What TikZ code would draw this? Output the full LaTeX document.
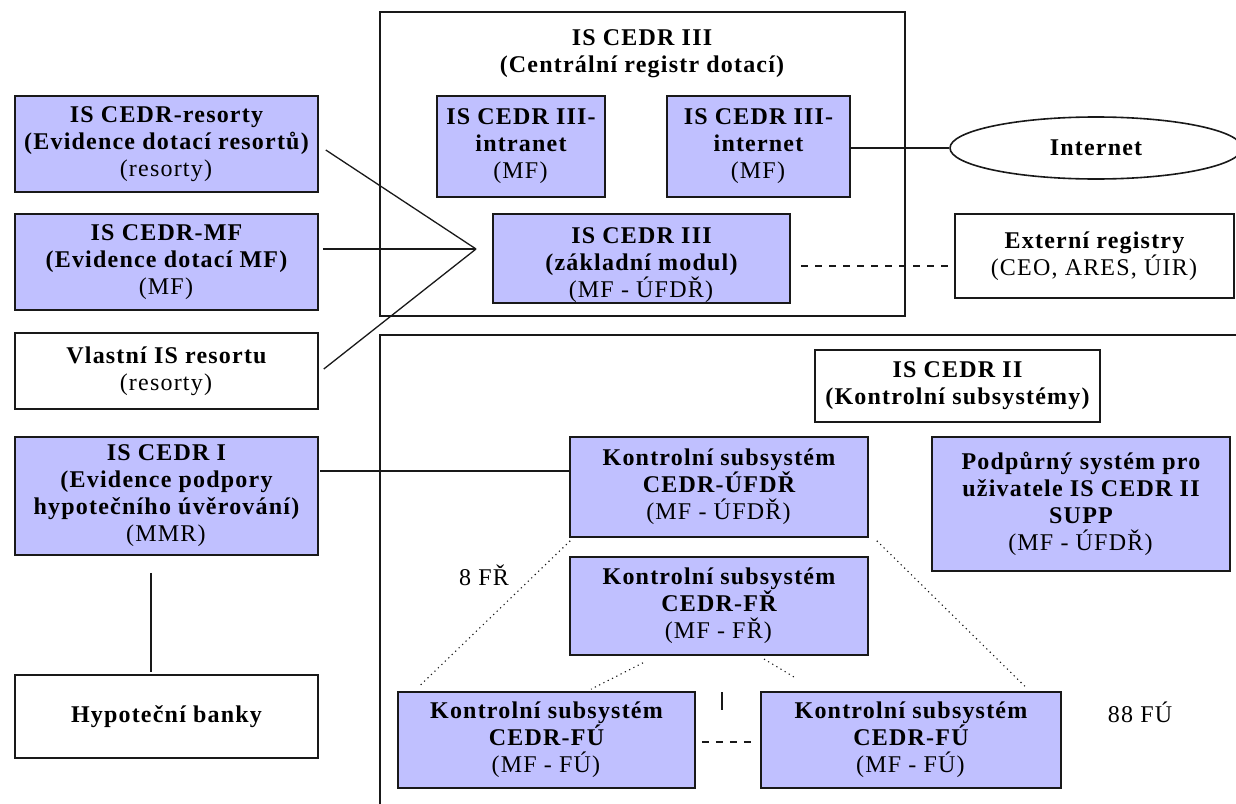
\documentclass[tikz,border=0pt]{standalone}
\usepackage{fontspec}
\setmainfont{Liberation Serif}[LetterSpace=5]
\usetikzlibrary{shapes.geometric,calc}
\definecolor{lav}{RGB}{192,192,255}
\definecolor{edge}{RGB}{25,25,25}
\begin{document}
\begin{tikzpicture}[x=1pt,y=-1pt,
  every node/.style={font=\fontsize{24}{27}\selectfont},
  bx/.style={draw=edge,line width=1.6pt,align=center,inner sep=0pt,font=\fontsize{24}{27}\selectfont\bfseries},
  lbox/.style={bx,fill=lav},
  wbox/.style={bx,fill=white},
  conn/.style={draw=edge,line width=1.3pt},
  dots/.style={draw=edge,line width=1.1pt,dash pattern=on 1.2pt off 3.6pt},
  dsh/.style={draw=edge,line width=1.3pt,dash pattern=on 7pt off 7pt}]
\useasboundingbox (0,0) rectangle (1236,803);
\fill[white] (0,0) rectangle (1236,803);

% frames
\node[wbox,minimum width=525pt,minimum height=304pt] (outer3) at (642.5,164) {};
\draw[draw=edge,line width=1.6pt] (380,815) -- (380,335) -- (1250,335);

\node[align=center,font=\fontsize{24}{27}\selectfont\bfseries] (t3) at (642,54) {IS CEDR III\\(Centrální registr dotací)};

% left column
\node[lbox,minimum width=303pt,minimum height=96pt] (res) at (166.5,144) {IS CEDR-resorty\\(Evidence dotací resortů)\\\textmd{(resorty)}};
\node[lbox,minimum width=303pt,minimum height=96pt] (mf) at (166.5,262) {IS CEDR-MF\\(Evidence dotací MF)\\\textmd{(MF)}};
\node[wbox,minimum width=303pt,minimum height=76pt] (vl) at (166.5,371) {Vlastní IS resortu\\\textmd{(resorty)}};
\node[lbox,minimum width=303pt,minimum height=118pt] (c1) at (166.5,496) {IS CEDR I\\(Evidence podpory\\hypotečního úvěrování)\\\textmd{(MMR)}};
\node[wbox,minimum width=303pt,minimum height=83pt] (hb) at (166.5,716.5) {Hypoteční banky};

% CEDR III inner
\node[lbox,minimum width=168pt,minimum height=101pt] (intra) at (521,146.5) {IS CEDR III-\\intranet\\\textmd{(MF)}};
\node[lbox,minimum width=183pt,minimum height=101pt] (inter) at (758.5,146.5) {IS CEDR III-\\internet\\\textmd{(MF)}};
\node[lbox,minimum width=297pt,minimum height=89pt] (zakl) at (641.5,258.5) {};
\node[align=center,font=\fontsize{24}{27}\selectfont\bfseries] (zaklt) at (641.5,265) {IS CEDR III\\(základní modul)\\\textmd{(MF - ÚFDŘ)}};

% right of CEDR III
\node[draw=edge,line width=1.6pt,ellipse,fill=white,minimum width=292pt,minimum height=62pt,inner sep=0pt,font=\fontsize{24}{27}\selectfont\bfseries] (inet) at (1096,148) {Internet};
\node[wbox,minimum width=279pt,minimum height=84pt] (ext) at (1094.5,256) {Externí registry\\\textmd{(CEO, ARES, ÚIR)}};

% CEDR II
\node[wbox,minimum width=285pt,minimum height=72pt] (c2) at (957.5,386) {IS CEDR II\\(Kontrolní subsystémy)};
\node[lbox,minimum width=298pt,minimum height=100pt] (ufdr) at (719,487) {Kontrolní subsystém\\CEDR-ÚFDŘ\\\textmd{(MF - ÚFDŘ)}};
\node[lbox,minimum width=298pt,minimum height=134pt] (podp) at (1081,504) {Podpůrný systém pro\\uživatele IS CEDR II\\SUPP\\\textmd{(MF - ÚFDŘ)}};
\node[lbox,minimum width=298pt,minimum height=98pt] (fr) at (719,606) {Kontrolní subsystém\\CEDR-FŘ\\\textmd{(MF - FŘ)}};
\node[lbox,minimum width=297pt,minimum height=96pt] (fu1) at (546.5,740) {Kontrolní subsystém\\CEDR-FÚ\\\textmd{(MF - FÚ)}};
\node[lbox,minimum width=300pt,minimum height=96pt] (fu2) at (911,740) {Kontrolní subsystém\\CEDR-FÚ\\\textmd{(MF - FÚ)}};

\node (l8) at (484,575) {8 FŘ};
\node (l88) at (1140,712) {88 FÚ};

% connectors
\coordinate (J) at (476,249);
\draw[conn] ([xshift=7pt,yshift=-6pt]res.east) -- (J);
\draw[conn] ([xshift=4pt,yshift=13pt]mf.east) -- (J);
\draw[conn] ([xshift=5pt,yshift=2pt]vl.east) -- (J);
\draw[conn] (inet.west) -- (inet.west -| inter.east);
\coordinate (za) at (801,266);
\draw[dsh] (za) -- (za -| ext.west);
\coordinate (c1a) at (320,471);
\draw[conn] (c1a) -- (c1a -| ufdr.west);
\draw[conn] ([xshift=-15.5pt,yshift=-17pt]c1.south) -- ([xshift=-15.5pt,yshift=2pt]hb.north);
\draw[dots] ([xshift=1pt,yshift=-3pt]ufdr.south west) -- ([xshift=21pt,yshift=4pt]fu1.north west);
\draw[dots] ([xshift=8pt,yshift=-3pt]ufdr.south east) -- ([xshift=-36pt,yshift=4pt]fu2.north east);
\draw[dots] ([xshift=-76pt,yshift=-7pt]fr.south) -- ([xshift=44.5pt,yshift=2pt]fu1.north);
\coordinate (frb) at (764,659);
\coordinate (frc) at (794,677);
\draw[dots] (frb) -- (frc);
\coordinate (tk) at (722,692);
\draw[conn] (tk) -- ++(0,18);
\draw[dsh] ([xshift=6pt,yshift=-2pt]fu1.east) -- ([xshift=-8pt,yshift=-2pt]fu2.west);
\end{tikzpicture}
\end{document}
